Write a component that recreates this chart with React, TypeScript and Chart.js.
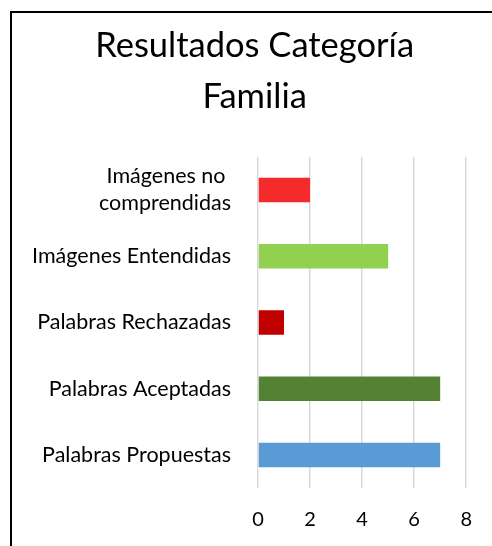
import React, { useEffect, useRef } from "react";
import { Chart, registerables } from "chart.js";

Chart.register(...registerables);

const titleLines = ["Resultados Categoría", "Familia"];
const categories: (string | string[])[] = [
  ["Imágenes no ", "comprendidas"],
  "Imágenes Entendidas",
  "Palabras Rechazadas",
  "Palabras Aceptadas",
  "Palabras Propuestas",
];
const values = [2, 5, 1, 7, 7];
const barColors = ["#F42A2B", "#92D050", "#C00000", "#548235", "#5B9BD5"];
const xMin = 0;
const xMax = 8;
const xStep = 2;

const FONT = "Lato, 'Noto Sans', sans-serif";

const titleShift = {
  id: "titleShift",
  afterLayout(chart: any) {
    const t = chart.titleBlock;
    if (t) {
      t.left = 43;
      t.right = chart.chartArea.right;
    }
  },
};

export default function App() {
  const ref = useRef<HTMLCanvasElement | null>(null);

  useEffect(() => {
    if (!ref.current) return;
    const chart = new Chart(ref.current, {
      type: "bar",
      data: {
        labels: categories,
        datasets: [
          {
            data: values,
            backgroundColor: barColors,
            borderWidth: 0,
            barPercentage: 0.37,
            categoryPercentage: 1,
          },
        ],
      },
      plugins: [titleShift],
      options: {
        indexAxis: "y",
        responsive: false,
        animation: false,
        devicePixelRatio: 1,
        layout: { padding: { top: 20, left: 0, right: 23, bottom: 15 } },
        plugins: {
          legend: { display: false },
          tooltip: { enabled: false },
          title: {
            display: true,
            text: titleLines,
            color: "#000",
            font: { family: FONT, size: 34.5, weight: "normal", lineHeight: 1.49 },
            padding: { top: 0, bottom: 34 },
          },
        },
        scales: {
          x: {
            min: xMin,
            max: xMax,
            afterFit: (scale: any) => {
              scale.height = 43;
            },
            ticks: {
              stepSize: xStep,
              color: "#000",
              padding: 20,
              font: { family: FONT, size: 20, lineHeight: 1.15 },
            },
            grid: { color: "#d9d9d9", lineWidth: 1.5, drawTicks: false },
            border: { display: false },
          },
          y: {
            afterFit: (scale: any) => {
              scale.width = 258;
              scale.paddingTop = 0;
              scale.paddingBottom = 0;
            },
            ticks: {
              color: "#000",
              padding: 27,
              font: { family: FONT, size: 21.5, lineHeight: 1.26 },
            },
            grid: { display: false, drawTicks: false },
            border: { display: false },
          },
        },
      },
    });
    return () => chart.destroy();
  }, []);

  return (
    <div
      style={{
        position: "fixed",
        left: 0,
        top: 0,
        width: 492,
        height: 546,
        overflow: "hidden",
        background: "#fff",
      }}
    >
      <canvas
        ref={ref}
        width={492}
        height={546}
        style={{ position: "absolute", left: 0, top: 0, width: 492, height: 546 }}
      />
      <div
        style={{
          position: "absolute",
          left: 10,
          top: 11,
          width: 700,
          height: 700,
          borderLeft: "2px solid #000",
          borderTop: "2px solid #000",
          pointerEvents: "none",
        }}
      />
    </div>
  );
}
